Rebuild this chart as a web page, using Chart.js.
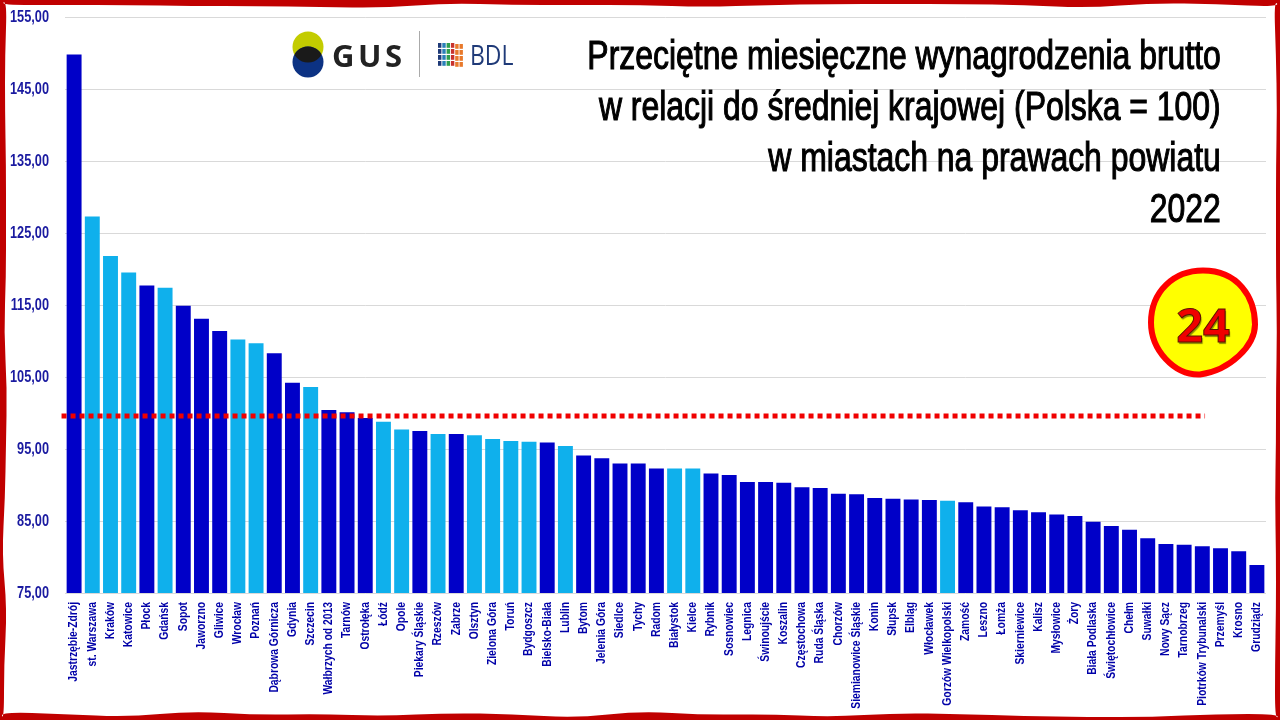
<!DOCTYPE html>
<html lang="pl"><head><meta charset="utf-8">
<style>
html,body{margin:0;padding:0;background:#fff;width:1280px;height:720px;overflow:hidden}
#wrap{position:relative;width:1280px;height:720px}
canvas{display:block}
#title{position:absolute;right:59px;top:30px;text-align:right;color:#000;font:400 40px/51px "Liberation Sans";-webkit-text-stroke:1.1px #000;white-space:nowrap;transform:scaleX(.798);transform-origin:right top}
#badge{position:absolute;left:1176px;top:296px;width:54px;text-align:center;font:700 47px/56px "Open Sans","DejaVu Sans";color:#f00000;-webkit-text-stroke:1px #5a1000;text-shadow:1px 2px 1px #8a8a00}
#gus{position:absolute;left:332px;top:36px;font:700 31px/38px "Open Sans";letter-spacing:3.5px;color:#222}
#bdl{position:absolute;left:470px;top:37px;font:400 27px/36px "Open Sans";color:#1f3a78;transform:scaleX(.85);transform-origin:left top}
</style></head><body><div id="wrap">
<canvas id="c" width="1280" height="720"></canvas>
<div id="title">Przeciętne miesięczne wynagrodzenia brutto<br>w relacji do średniej krajowej (Polska = 100)<br>w miastach na prawach powiatu<br>2022</div>
<div id="gus">GUS</div><div id="bdl">BDL</div>
<div id="badge">24</div>
</div>
<script src="https://cdn.jsdelivr.net/npm/chart.js@4"></script>
<script>
const cities=["Jastrzębie-Zdrój","st. Warszawa","Kraków","Katowice","Płock","Gdańsk","Sopot","Jaworzno","Gliwice","Wrocław","Poznań","Dąbrowa Górnicza","Gdynia","Szczecin","Wałbrzych od 2013","Tarnów","Ostrołęka","Łódź","Opole","Piekary Śląskie","Rzeszów","Zabrze","Olsztyn","Zielona Góra","Toruń","Bydgoszcz","Bielsko-Biała","Lublin","Bytom","Jelenia Góra","Siedlce","Tychy","Radom","Białystok","Kielce","Rybnik","Sosnowiec","Legnica","Świnoujście","Koszalin","Częstochowa","Ruda Śląska","Chorzów","Siemianowice Śląskie","Konin","Słupsk","Elbląg","Włocławek","Gorzów Wielkopolski","Zamość","Leszno","Łomża","Skierniewice","Kalisz","Mysłowice","Żory","Biała Podlaska","Świętochłowice","Chełm","Suwałki","Nowy Sącz","Tarnobrzeg","Piotrków Trybunalski","Przemyśl","Krosno","Grudziądz"];
const wages=[149.8,127.3,121.8,119.5,117.7,117.4,114.9,113.1,111.4,110.2,109.7,108.3,104.2,103.6,100.4,100.1,99.3,98.8,97.7,97.5,97.1,97.1,96.9,96.4,96.1,96.0,95.9,95.4,94.1,93.7,93.0,93.0,92.3,92.3,92.3,91.6,91.4,90.4,90.4,90.3,89.7,89.6,88.8,88.7,88.2,88.1,88.0,87.9,87.8,87.6,87.0,86.9,86.5,86.2,85.9,85.7,84.9,84.3,83.8,82.6,81.8,81.7,81.5,81.2,80.8,78.9];
const capitals=["st. Warszawa","Kraków","Katowice","Gdańsk","Wrocław","Poznań","Szczecin","Łódź","Opole","Rzeszów","Olsztyn","Zielona Góra","Toruń","Bydgoszcz","Lublin","Białystok","Kielce","Gorzów Wielkopolski"];
const refValue=99.6;
const refSpan=[-0.69,62.15];
const DARK="#0000c8",LIGHT="#0fb0ec";
const FONT='"Liberation Sans"';

// Decorative hand-torn frame: depth of the red edge along each side
const edgeTop=[5,5,5,6,6,7,8,3,5,5,5,7,5,4,4,4,5,8,3,4,7];
const edgeBottom=[8,6,3,9,5,6,4,7,6,2,9,5,6,3,7,6,4,3,3,6,6];
const edgeLeft=[7,5,5,6,6,6,4,7,6,5,2,7,4,4];
const edgeRight=[6,4,3,4,4,4,3,4,4,5,4,4,5,5];

// Condensed tick lettering: fillText's own maxWidth argument narrows what the axes draw
const condensePlugin={id:"condense",beforeDraw(ch){
  const c=ch.ctx;if(c._cond)return;c._cond=true;const orig=c.fillText.bind(c);
  c.fillText=(t,x,y)=>{const k=c.font.includes("17px")?.75:.86;orig(t,x,y,c.measureText(t).width*k);};
}};
const refLinePlugin={id:"refLine",afterDatasetsDraw(ch){
  const c=ch.ctx,py=ch.scales.y.getPixelForValue(refValue);
  c.save();c.strokeStyle="#f00000";c.lineWidth=5;c.setLineDash([5,4]);c.beginPath();
  c.moveTo(ch.scales.x.getPixelForValue(refSpan[0]),py);c.lineTo(ch.scales.x.getPixelForValue(refSpan[1]),py);c.stroke();c.restore();
}};
const framePlugin={id:"frame",afterDraw(ch){
  const c=ch.ctx,W=ch.width,H=ch.height,pts=[];
  edgeTop.forEach((d,i)=>pts.push([W*i/(edgeTop.length-1),d]));
  edgeRight.forEach((d,i)=>pts.push([W-d,H*i/(edgeRight.length-1)]));
  edgeBottom.slice().reverse().forEach((d,i)=>pts.push([W-W*i/(edgeBottom.length-1),H-d]));
  edgeLeft.slice().reverse().forEach((d,i)=>pts.push([d,H-H*i/(edgeLeft.length-1)]));
  c.save();c.beginPath();c.rect(0,0,W,H);
  const n=pts.length;
  c.moveTo((pts[0][0]+pts[n-1][0])/2,(pts[0][1]+pts[n-1][1])/2);
  for(let i=0;i<n;i++){const p=pts[i],q=pts[(i+1)%n];c.quadraticCurveTo(p[0],p[1],(p[0]+q[0])/2,(p[1]+q[1])/2);}
  c.closePath();c.fillStyle="#c00000";c.fill("evenodd");
  // GUS / BDL logos
  c.fillStyle="#c3cc00";c.beginPath();c.arc(308,47,15.5,0,7);c.fill();
  c.fillStyle="#0c3283";c.beginPath();c.arc(308,62,15.5,0,7);c.fill();
  c.save();c.beginPath();c.arc(308,47,15.5,0,7);c.clip();c.fillStyle="#1a1a1a";c.beginPath();c.arc(308,62,15.5,0,7);c.fill();c.restore();
  c.strokeStyle="#aaa";c.lineWidth=1;c.beginPath();c.moveTo(419.5,31);c.lineTo(419.5,77);c.stroke();
  const cols=["#1f3a78","#2a7fb8","#2e9e4f","#c8322d","#e8792b","#e8792b"];
  cols.forEach((k,i)=>{c.fillStyle=k;for(let j=0;j<4;j++)c.fillRect(438+i*4.3,43+j*6+(i>3?1:0),3.4,4.8);});
  // badge
  const cx=1203,cy=322.5,r=52,m=r*.56;c.fillStyle="#ffff00";c.strokeStyle="#ff0000";c.lineWidth=6;
  c.beginPath();c.moveTo(cx-r,cy);
  c.bezierCurveTo(cx-r,cy-m-2,cx-m,cy-r,cx,cy-r);
  c.bezierCurveTo(cx+m+6,cy-r,cx+r,cy-m+4,cx+r,cy+2);
  c.bezierCurveTo(cx+r,cy+m-6,cx+m-2,cy+r-4,cx-3,cy+r);
  c.bezierCurveTo(cx-m,cy+r+1,cx-r,cy+m-2,cx-r,cy);
  c.closePath();c.fill();c.stroke();
  c.restore();
}};

new Chart(document.getElementById("c"),{
  type:"bar",
  plugins:[condensePlugin,refLinePlugin,framePlugin],
  data:{labels:cities,datasets:[
    {label:"Wynagrodzenia",data:wages,backgroundColor:cities.map(n=>capitals.includes(n)?LIGHT:DARK),categoryPercentage:.82,barPercentage:1}
  ]},
  options:{
    responsive:false,animation:false,
    layout:{padding:{left:0,right:14,top:17,bottom:0}},
    plugins:{legend:{display:false},tooltip:{enabled:false},title:{display:false}},
    scales:{
      x:{grid:{display:false,drawTicks:false},border:{display:false},
        afterFit(a){a.height=127;a.paddingLeft=0;a.paddingRight=0;},
        ticks:{autoSkip:false,minRotation:90,maxRotation:90,padding:9,color:"#0000a8",font:{family:FONT,size:12,weight:"bold"}}},
      y:{min:75,max:155,grid:{color:"#d9d9d9",drawTicks:false},border:{display:false},
        afterFit(a){a.width=65;a.paddingTop=0;a.paddingBottom=0;},
        ticks:{stepSize:10,padding:16,color:"#1a1aa0",font:{family:FONT,size:17,weight:"bold"},callback:v=>v.toFixed(2).replace(".",",")}}
    }
  }
});
</script></body></html>
